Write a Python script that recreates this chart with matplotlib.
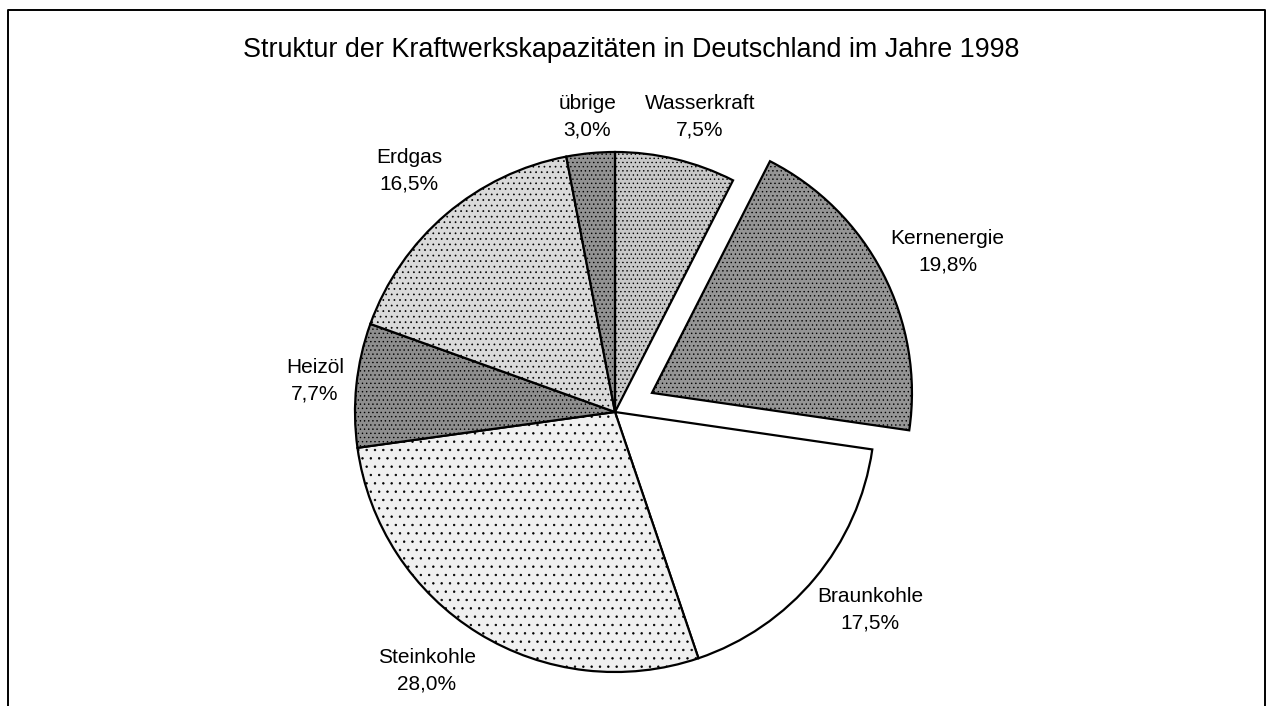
import numpy as np
import matplotlib
matplotlib.use("Agg")
import matplotlib.pyplot as plt

plt.rcParams['font.family'] = ['Liberation Sans', 'DejaVu Sans']
plt.rcParams['hatch.color'] = '#6a6a6a'
plt.rcParams['hatch.linewidth'] = 0.5

# Data (clockwise from top)
labels = ["Wasserkraft", "Kernenergie", "Braunkohle", "Steinkohle", "Heizöl", "Erdgas", "übrige"]
shares = [7.5, 19.8, 17.5, 28.0, 7.7, 16.5, 3.0]
pct_text = ["7,5%", "19,8%", "17,5%", "28,0%", "7,7%", "16,5%", "3,0%"]

# Style
face = ["#c8c8c8", "#959595", "#ffffff", "#f0f0f0", "#8e8e8e", "#dadada", "#929292"]
hatch = ["....", "....", None, "..", "....", "...", "...."]
explode_frac = [0, 0.16, 0, 0, 0, 0, 0]
label_dist = [1.18, 1.26, 1.24, 1.23, 1.16, 1.22, 1.14]
label_turn = [-2.6, -1.9, 2.0, -4.4, 0, 0, 0]   # degrees

W, H = 1272, 706
fig = plt.figure(figsize=(W / 100, H / 100), dpi=100)
ax = fig.add_axes([0, 0, 1, 1])

center = (615, H - 412)
radius = 260

# explode is in data units, so scale by the radius
wedges, _ = ax.pie(shares, explode=[e * radius for e in explode_frac], startangle=90,
                   counterclock=False, center=center, radius=radius, colors=face,
                   wedgeprops=dict(edgecolor="black", linewidth=1.6))
for w, h in zip(wedges, hatch):
    if h:
        w.set_hatch(h)

# Labels around the pie
for w, name, pct, d, t in zip(wedges, labels, pct_text, label_dist, label_turn):
    mid = np.deg2rad((w.theta1 + w.theta2) / 2 + t)
    cx, cy = w.center
    x = cx + d * radius * np.cos(mid)
    y = cy + d * radius * np.sin(mid)
    ax.text(x, y, f"{name}\n{pct}", ha="center", va="center", fontsize=15,
            linespacing=1.5)

ax.text(631, H - 50, "Struktur der Kraftwerkskapazitäten in Deutschland im Jahre 1998",
        ha="center", va="center", fontsize=19.4)

# Frame (no bottom edge)
ax.plot([8, 8, 1265, 1265], [0, H - 10, H - 10, 0], color="black", lw=1.4)

ax.set_xlim(0, W)
ax.set_ylim(0, H)
ax.set_aspect("equal")
ax.axis("off")

fig.savefig("out.png", dpi=100)
